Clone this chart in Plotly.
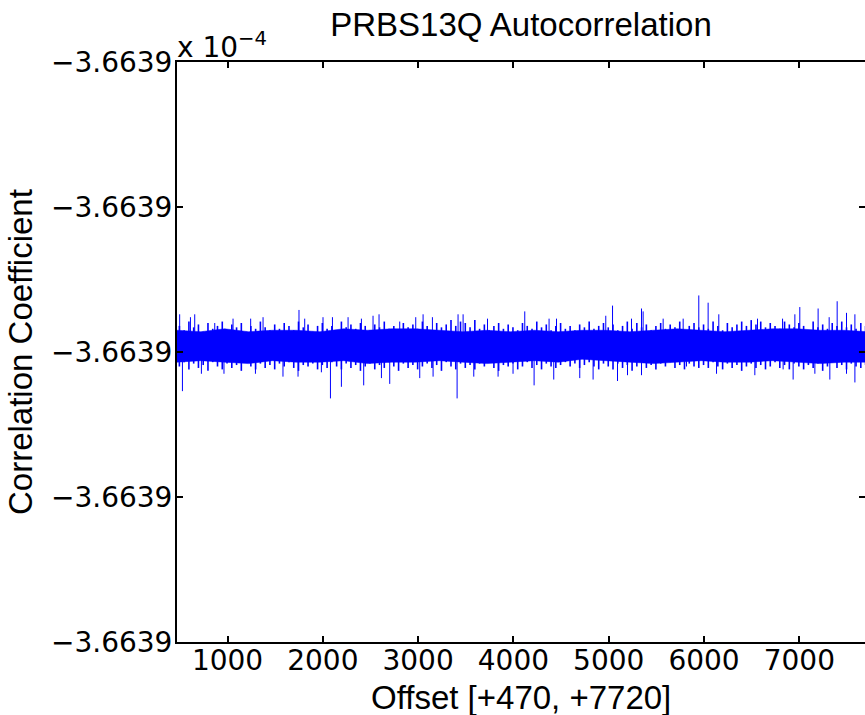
import plotly.graph_objects as go

# trace values in hundredths of one y tick step
# (0 = the middle "-3.6639" tick)

# solid core of the band
core_x = list(range(470, 7721, 250))
core_top = [15, 14, 16, 14, 15, 15, 14, 16, 15, 16,
            16, 15, 14, 15, 14, 15, 14, 15, 15, 14,
            15, 16, 15, 14, 15, 16, 16, 15, 15, 14]
core_bot = [-7, -6, -7, -8, -6, -7, -7, -6, -8, -7,
            -7, -6, -7, -8, -7, -6, -7, -5, -6, -7,
            -8, -7, -6, -7, -7, -6, -7, -8, -7, -7]

# fuzzy fringe: highest / lowest sample in each 50-lag slot
fringe_x = list(range(495, 7696, 50))
fringe_up = [18, 15, 21, 17, 19, 14, 20, 16, 18, 21,
             15, 19, 17, 20, 14, 18, 16, 21, 17, 15,
             19, 16, 20, 18, 15, 21, 17, 19, 14, 18,
             20, 16, 18, 15, 21, 17, 19, 16, 20, 18,
             15, 19, 17, 21, 16, 18, 14, 20, 17, 19,
             16, 21, 18, 15, 20, 17, 19, 22, 18, 21,
             20, 17, 22, 16, 19, 15, 18, 20, 16, 19,
             17, 15, 20, 18, 16, 21, 17, 19, 15, 18,
             20, 16, 18, 15, 19, 17, 21, 16, 18, 20,
             17, 19, 15, 18, 21, 16, 20, 17, 19, 15,
             18, 20, 16, 19, 17, 21, 15, 18, 20, 17,
             19, 16, 21, 18, 15, 20, 17, 19, 21, 18,
             22, 19, 21, 17, 20, 18, 16, 21, 19, 17,
             20, 18, 15, 21, 17, 19, 16, 20, 18, 21,
             17, 19, 16, 20, 18]
fringe_dn = [-10, -7, -12, -8, -11, -9, -13, -7, -10, -12,
             -8, -11, -9, -13, -7, -10, -12, -8, -11, -9,
             -12, -8, -10, -7, -11, -13, -9, -10, -8, -12,
             -9, -11, -7, -10, -12, -8, -11, -9, -13, -10,
             -8, -12, -9, -11, -7, -10, -13, -8, -11, -9,
             -12, -10, -8, -11, -9, -13, -7, -10, -12, -8,
             -11, -9, -12, -8, -10, -7, -11, -13, -9, -10,
             -8, -12, -10, -7, -11, -9, -12, -8, -10, -11,
             -9, -7, -10, -8, -11, -9, -7, -10, -12, -8,
             -10, -12, -8, -11, -9, -13, -10, -7, -11, -9,
             -12, -8, -10, -7, -11, -9, -12, -8, -10, -11,
             -9, -11, -7, -10, -12, -8, -11, -9, -13, -10,
             -8, -11, -9, -12, -10, -7, -11, -9, -12, -8,
             -10, -12, -9, -11, -8, -13, -10, -7, -11, -9,
             -12, -8, -10, -11, -9]

# the big spikes
up_x = [498, 611, 656, 866, 1058, 1243, 1373, 1750, 1810, 2002,
        2101, 2265, 2405, 2527, 2590, 2807, 2975, 3052, 3150, 3419,
        3472, 3728, 4119, 4374, 4452, 4969, 5040, 5239, 5344, 5361,
        5571, 5781, 5945, 6043, 6155, 6561, 6824, 6953, 7005, 7197,
        7313, 7397, 7495, 7583]
up_y = [26, 24, 26, 20, 23, 23, 24, 29, 23, 24,
        24, 24, 23, 25, 26, 21, 24, 26, 24, 26,
        26, 23, 28, 23, 23, 25, 32, 23, 30, 28,
        23, 23, 39, 34, 26, 23, 23, 26, 31, 30,
        24, 35, 27, 26]
down_x = [527, 726, 963, 1293, 1582, 1740, 1985, 2080, 2195, 2429,
          2615, 2702, 3017, 3157, 3409, 3584, 3839, 3996, 4217, 4423,
          4696, 4836, 5092, 5197, 5344, 5816, 6131, 6533, 6830, 6935,
          7163, 7320, 7495, 7583]
down_y = [-27, -15, -15, -15, -17, -17, -14, -32, -24, -23,
          -18, -22, -18, -17, -32, -17, -17, -15, -23, -19,
          -18, -19, -20, -16, -16, -10, -15, -16, -12, -19,
          -15, -19, -15, -21]
core_mid = 4

y_ticks = [-200, -100, 0, 100, 200]
y_ticktext = ["\u22123.6639"] * 5
x_ticks = [1000, 2000, 3000, 4000, 5000, 6000, 7000]

font = "Liberation Sans, Arial, sans-serif"
tick_font = "DejaVu Sans, sans-serif"
blue = "#0000ff"

# every sample range / spike is a vertical stroke
fx, fy = [], []
for x, lo, hi in zip(fringe_x, fringe_dn, fringe_up):
    fx += [x, x, None]
    fy += [lo, hi, None]
sx, sy = [], []
for x, y in zip(up_x + down_x, up_y + down_y):
    sx += [x, x, None]
    sy += [core_mid, y, None]

fig = go.Figure()
fig.add_trace(go.Scatter(
    x=core_x + core_x[::-1], y=core_top + core_bot[::-1],
    fill="toself", fillcolor=blue, mode="lines",
    line=dict(color=blue, width=0.5), hoverinfo="skip"))
fig.add_trace(go.Scatter(
    x=fx, y=fy, mode="lines", line=dict(color=blue, width=1.6),
    hoverinfo="skip"))
fig.add_trace(go.Scatter(
    x=sx, y=sy, mode="lines", line=dict(color=blue, width=1),
    hoverinfo="skip"))

fig.update_layout(
    width=865, height=715,
    margin=dict(l=177, r=0, t=62, b=73),
    paper_bgcolor="white", plot_bgcolor="white",
    showlegend=False,
    font=dict(family=font, color="black", size=30),
    title=dict(text="PRBS13Q Autocorrelation", x=0.5, xref="paper",
               xanchor="center", y=1 - 24 / 715, yanchor="middle",
               font=dict(size=33)),
    xaxis=dict(range=[470, 7689], tickvals=x_ticks, ticks="inside",
               ticklen=6, tickwidth=1.5, tickcolor="black",
               showline=True, linewidth=2, linecolor="black",
               mirror="ticks", showgrid=False, zeroline=False,
               ticklabelstandoff=-8,
               tickfont=dict(family=tick_font, size=28)),
    yaxis=dict(range=[-200, 200], tickvals=y_ticks, ticktext=y_ticktext,
               ticks="inside", ticklen=6, tickwidth=1.5, tickcolor="black",
               showline=True, linewidth=2, linecolor="black",
               showgrid=False, zeroline=False, ticklabelstandoff=-3,
               tickfont=dict(family=tick_font, size=28)),
    # right-hand ticks only: the right frame line falls just off the page
    yaxis2=dict(range=[-200, 200], tickvals=y_ticks, overlaying="y",
                side="right", ticks="inside", ticklen=6, tickwidth=1.5,
                tickcolor="black", showline=False, showticklabels=False,
                showgrid=False, zeroline=False),
)
fig.data[2].update(yaxis="y2")

fig.add_annotation(text="Correlation Coefficient", textangle=-90,
                   xref="paper", yref="paper", x=0, y=0.5, xshift=-157,
                   xanchor="center", yanchor="middle", showarrow=False,
                   font=dict(size=33))
fig.add_annotation(text="Offset [+470, +7720]", xref="paper", yref="paper",
                   x=0.5, y=0, yshift=-55, xanchor="center",
                   yanchor="middle", showarrow=False, font=dict(size=33))
fig.add_annotation(text="x 10<sup>\u22124</sup>", xref="paper", yref="paper",
                   x=0, y=1, xshift=-2, yshift=-4, xanchor="left",
                   yanchor="bottom", showarrow=False,
                   font=dict(family=tick_font, size=28))

# drop the default page margin so the figure sits at the window corner
fig.write_html("out.html", config={"displayModeBar": False},
               post_script="document.body.style.margin='0';")
